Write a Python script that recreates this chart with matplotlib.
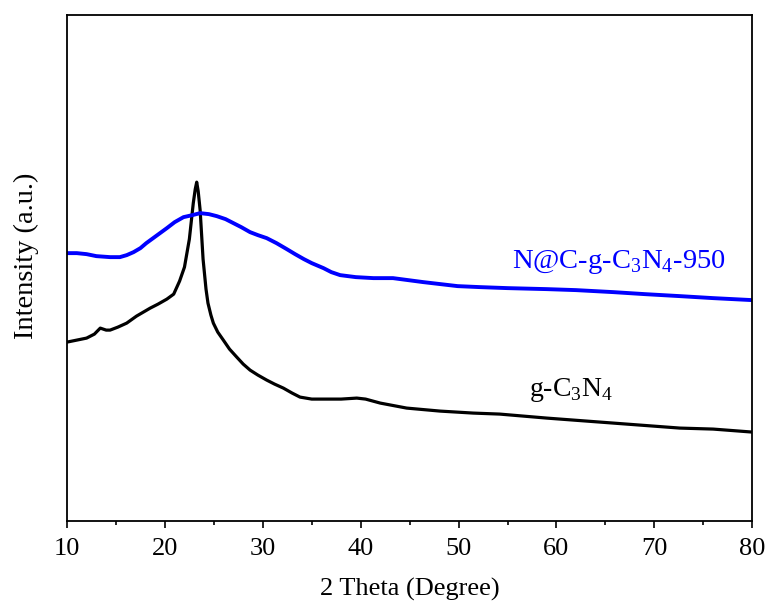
import numpy as np
import matplotlib
matplotlib.use("Agg")
import matplotlib.pyplot as plt

plt.rcParams["font.family"] = ["Liberation Serif", "DejaVu Serif"]
plt.rcParams["mathtext.fontset"] = "custom"
plt.rcParams["mathtext.rm"] = "Liberation Serif"

# pattern of g-C3N4 (2theta in degree, intensity in a.u.)
gcn_x = [10.0, 11.0, 12.0, 12.8, 13.4, 14.0, 14.4, 15.2, 16.1, 17.1, 18.5,
         19.3, 20.2, 20.9, 21.5, 22.0, 22.5, 22.9, 23.1, 23.25, 23.4, 23.6,
         23.9, 24.2, 24.4, 24.7, 24.95, 25.4, 25.97, 26.6, 27.34, 28.0,
         28.7, 29.5, 30.4, 31.2, 32.1, 33.0, 33.8, 35.0, 36.2, 38.0, 39.6,
         40.5, 42.0, 44.7, 48.1, 51.5, 54.2, 59.0, 65.8, 72.6, 76.0, 80.0]
gcn_y = [179, 181, 183, 187, 193, 191, 191, 194, 198, 205, 213,
         217, 222, 227, 240, 254, 282, 318, 332, 339, 330, 311,
         262, 232, 218, 206, 198, 189, 181, 172, 164, 157,
         151, 146, 141, 137, 133, 128, 124, 122, 122, 122, 123,
         122, 118, 113, 110, 108, 107, 103, 98, 93, 92, 89]

# pattern of N@C-g-C3N4-950
ncn_x = [10.0, 11.0, 12.0, 13.0, 14.4, 15.4, 16.1, 16.8, 17.5, 18.1, 18.8,
         19.5, 20.2, 21.0, 21.9, 22.8, 23.6, 24.5, 25.3, 26.2, 27.0, 27.8,
         28.7, 29.5, 30.4, 31.4, 32.45, 33.3, 34.2, 35.0, 36.2, 37.0, 37.9,
         39.5, 41.3, 43.3, 46.4, 49.9, 52.2, 55.0, 59.0, 62.0, 65.8, 69.0,
         72.6, 76.0, 80.0]
ncn_y = [268, 268, 267, 265, 264, 264, 266, 269, 273, 278, 283,
         288, 293, 299, 304, 306, 308, 307, 305, 302, 298, 294,
         289, 286, 283, 278, 272, 267, 262, 258, 253, 249, 246,
         244, 243, 243, 239, 235, 234, 233, 232, 231, 229, 227,
         225, 223, 221]

fig, ax = plt.subplots(figsize=(7.7, 6.08), dpi=100)
fig.subplots_adjust(left=0.087, right=0.977, top=0.975, bottom=0.143)

ax.plot(gcn_x, gcn_y, color="black", lw=2.3)
ax.plot(ncn_x, ncn_y, color="#0000ff", lw=2.8)

ax.set_xlim(10, 80)
ax.set_ylim(0, 506)
ax.set_xticks(np.arange(10, 81, 10))
ax.set_xticks(np.arange(15, 80, 10), minor=True)
ax.set_yticks([])
ax.tick_params(axis="x", which="major", direction="out", length=5, width=1.2,
               labelsize=19, pad=7)
ax.tick_params(axis="x", which="minor", direction="out", length=3, width=1.2)
for sp in ax.spines.values():
    sp.set_linewidth(1.3)

ax.set_xlabel("2 Theta (Degree)", fontsize=19, labelpad=13)
ax.set_ylabel("Intensity (a.u.)", fontsize=20.5)
ax.yaxis.set_label_coords(-0.041, 0.525)

ax.text(66.4, 259, r"N@C-g-C$_3$N$_4$-950", color="#0000ff", fontsize=20.5,
        ha="center", va="center")
ax.text(61.5, 131, r"g-C$_3$N$_4$", color="black", fontsize=20,
        ha="center", va="center")

fig.savefig("out.png", dpi=100)
